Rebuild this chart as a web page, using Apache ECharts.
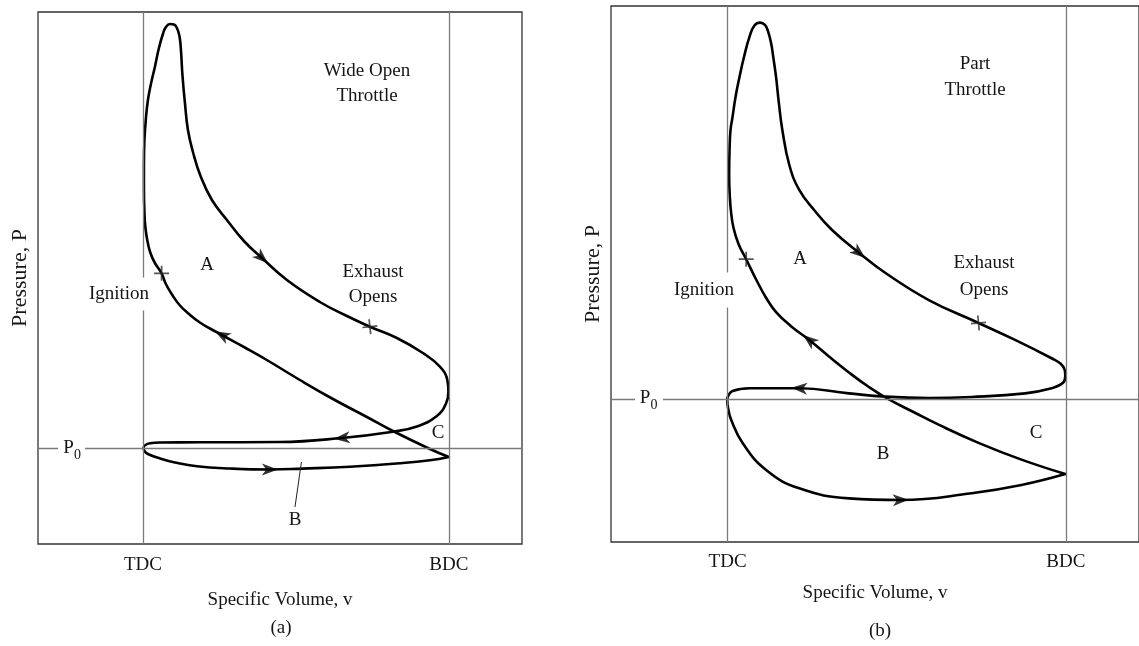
<!DOCTYPE html>
<html>
<head>
<meta charset="utf-8">
<title>P-v diagrams, SI engine</title>
<script src="https://cdn.jsdelivr.net/npm/echarts@6/dist/echarts.min.js"></script>
<style>
  html, body { margin: 0; padding: 0; background: #fff; }
  #chart { width: 1139px; height: 646px; }
</style>
</head>
<body>
<div id="chart"></div>
<script>
// Specific volume is given as % of stroke measured from TDC; pressure in arbitrary units with P0 = 10.
const volumeTicks = [0, 100];
const volumeTickLabels = ['TDC', 'BDC'];
const ambientPressure = 10;

// (a) Wide open throttle: one full cycle starting at BDC (compression -> combustion -> expansion -> exhaust -> intake)
const wotLoop = [
  [100, 9.1], [93.8, 9.9], [81.7, 11.7], [73.2, 13.1], [62.1, 14.9], [51.3, 16.8], [40.5, 18.8],
  [33.3, 20.05], [25.8, 21.3], [22.2, 21.9], [18.6, 22.55], [15.4, 23.3], [12.1, 24.25], [9.5, 25.35],
  [7.5, 26.4], [6.1, 27.47], [3.9, 28.5], [2.45, 29.5], [1.47, 30.7], [0.82, 32.0], [0.49, 33.6],
  [0.33, 35.8], [0.33, 38.3], [0.49, 40.8], [0.98, 43.0], [1.63, 44.8], [2.61, 46.4], [3.92, 48.13],
  [5.23, 50.0], [6.63, 51.5], [7.52, 52.1], [8.82, 52.4], [10.13, 52.35], [11.11, 52.0], [11.93, 51.2],
  [12.42, 49.8], [12.91, 47.3], [13.73, 44.5], [14.71, 41.8], [16.34, 39.6], [18.95, 37.1], [22.55, 34.8],
  [27.45, 32.8], [33.0, 30.7], [38.9, 29.0], [47.06, 26.8], [57.84, 24.6], [66.0, 23.3], [74.18, 22.13],
  [83.0, 21.0], [91.5, 19.5], [97.06, 18.13], [99.5, 16.8], [99.84, 15.6], [99.0, 14.4], [96.08, 13.2],
  [89.54, 12.15], [81.7, 11.63], [65.03, 11.0], [44.77, 10.6], [18.63, 10.57], [5.56, 10.55], [2.29, 10.47],
  [0.82, 10.3], [0.2, 10.05], [0.49, 9.7], [1.63, 9.4], [5.56, 8.95], [10.46, 8.55], [17.65, 8.17],
  [28.43, 7.95], [41.5, 7.85], [51.96, 7.94], [67.65, 8.13], [83.99, 8.47], [93.79, 8.77], [100, 9.1]
];
const wotArrows = [[38.9, 29.0], [25.8, 21.3], [65.03, 11.0], [41.5, 7.85]];
const wotIgnition = [6.1, 27.47];
const wotExhaustOpens = [74.18, 22.13];
const wotPumpingPointer = [[49.7, 4.1], [51.8, 8.6]];

// (b) Part throttle
const ptLoop = [
  [99.85, 5.03], [86.9, 5.99], [74.2, 7.11], [62.4, 8.32], [55.1, 9.15], [47.7, 10.0], [41.8, 10.83],
  [35.9, 11.8], [30.0, 12.87], [24.15, 13.97], [18.85, 14.87], [14.34, 15.83], [11.34, 16.8], [8.45, 18.0],
  [5.51, 19.35], [3.24, 20.37], [1.77, 21.43], [1.03, 22.5], [0.65, 23.63], [0.47, 24.97], [0.59, 26.63],
  [0.88, 27.97], [1.47, 28.83], [2.36, 30.17], [3.53, 31.5], [4.86, 32.83], [6.48, 34.17], [7.95, 34.93],
  [9.63, 35.12], [11.05, 34.97], [11.93, 34.57], [12.87, 33.77], [13.55, 32.77], [14.34, 31.5], [15.17, 29.77],
  [16.2, 27.97], [18.26, 25.63], [21.2, 23.97], [25.6, 22.63], [30.9, 21.3], [38.9, 19.77], [46.7, 18.43],
  [59.5, 16.63], [74.2, 15.1], [85.0, 13.97], [95.8, 12.75], [98.4, 12.4], [99.7, 11.97], [99.85, 11.57],
  [99.26, 11.13], [95.8, 10.75], [88.0, 10.41], [72.2, 10.17], [59.5, 10.1], [46.7, 10.19], [35.9, 10.41],
  [21.2, 10.75], [6.48, 10.75], [1.47, 10.57], [0.15, 10.23], [-0.09, 9.97], [0.15, 9.43], [1.09, 8.63],
  [4.5, 7.08], [11.4, 5.3], [21.2, 4.08], [35.9, 3.41], [51.2, 3.3], [72.2, 3.75], [86.9, 4.3], [99.85, 5.03]
];
const ptArrows = [[38.9, 19.77], [24.15, 13.97], [21.2, 10.75], [51.2, 3.3]];
const ptIgnition = [5.51, 19.35];
const ptExhaustOpens = [74.2, 15.1];

const FONT_FAMILY = '"Liberation Serif", "Times New Roman", serif';
const INK = '#151515';
const CURVE = '#000';
const GUIDE = '#7a7a7a';
const ARROW_PATH = 'path://M5,0 L10,13 L5,9.5 L0,13 Z';
const CROSS_PATH = 'path://M0,6.2 L14,6.2 L14,7.8 L0,7.8 Z M6.2,0 L7.8,0 L7.8,14 L6.2,14 Z';

const chart = echarts.init(document.getElementById('chart'), null, { renderer: 'canvas' });

function xAxisFor(gridIndex, min, max, labelMargin, nameGap) {
  return {
    gridIndex, type: 'value', min, max,
    axisLine: { show: false }, axisTick: { show: false }, splitLine: { show: false },
    axisLabel: {
      customValues: volumeTicks,
      formatter: (v) => volumeTickLabels[volumeTicks.indexOf(v)] || '',
      margin: labelMargin, fontFamily: FONT_FAMILY, fontSize: 19, color: INK
    },
    name: 'Specific Volume, v', nameLocation: 'middle', nameGap,
    nameTextStyle: { fontFamily: FONT_FAMILY, fontSize: 19, color: INK }
  };
}
function yAxisFor(gridIndex, min, max) {
  return {
    gridIndex, type: 'value', min, max,
    axisLine: { show: false }, axisTick: { show: false }, splitLine: { show: false },
    axisLabel: { show: false },
    name: 'Pressure, P', nameLocation: 'middle', nameRotate: 90, nameGap: 7,
    nameTextStyle: { fontFamily: FONT_FAMILY, fontSize: 22, color: INK }
  };
}
function guideSeries(idx) {
  return {
    type: 'line', xAxisIndex: idx, yAxisIndex: idx, data: [], z: 1, silent: true,
    markLine: {
      silent: true, symbol: ['none', 'none'], label: { show: false },
      lineStyle: { color: GUIDE, width: 1.3, type: 'solid' },
      emphasis: { disabled: true },
      data: [{ xAxis: volumeTicks[0] }, { xAxis: volumeTicks[1] }, { yAxis: ambientPressure }]
    }
  };
}
function loopSeries(id, idx, data) {
  return {
    id, type: 'line', xAxisIndex: idx, yAxisIndex: idx, data, smooth: 0.45,
    symbol: 'none', z: 3, silent: true,
    lineStyle: { color: CURVE, width: 2.6, cap: 'round', join: 'round' }
  };
}
function arrowSeries(id, idx, data) {
  return {
    id, type: 'scatter', xAxisIndex: idx, yAxisIndex: idx, data, z: 4, silent: true,
    symbol: ARROW_PATH, symbolSize: [12, 16], itemStyle: { color: CURVE }
  };
}
function crossSeries(id, idx, data) {
  return {
    id, type: 'scatter', xAxisIndex: idx, yAxisIndex: idx, data, z: 4, silent: true,
    symbol: CROSS_PATH, symbolSize: 15, itemStyle: { color: '#2a2a2a' }
  };
}

function text(x, y, str, extra) {
  return {
    type: 'text', x, y, z: 100, silent: true,
    style: Object.assign({
      text: str, font: '19px ' + FONT_FAMILY, fill: INK,
      align: 'center', verticalAlign: 'middle', textAlign: 'center', textVerticalAlign: 'middle'
    }, extra || {})
  };
}
function ambientLabel(px, py, gapLeft, gapRight) {
  return [
    { type: 'rect', z: 99, silent: true, shape: { x: gapLeft, y: py - 8, width: gapRight - gapLeft, height: 16 }, style: { fill: '#fff' } },
    text(px, py - 1, 'P'),
    text(px + 9, py + 6, '0', { font: '14px ' + FONT_FAMILY })
  ];
}

const option = {
  animation: false,
  backgroundColor: '#fff',
  grid: [
    { left: 38, top: 12, width: 484, height: 532, show: true, borderColor: '#333', borderWidth: 1.3, containLabel: false },
    { left: 611, top: 6, width: 530, height: 536, show: true, borderColor: '#333', borderWidth: 1.3, containLabel: false }
  ],
  xAxis: [xAxisFor(0, -34.3, 123.9, 12, 47), xAxisFor(1, -34.46, 121.65, 11, 42)],
  yAxis: [yAxisFor(0, 0.4, 53.6), yAxisFor(1, 0.5, 36.23)],
  series: [
    guideSeries(0),
    guideSeries(1),
    loopSeries('wotLoop', 0, wotLoop),
    loopSeries('ptLoop', 1, ptLoop),
    arrowSeries('wotArrows', 0, wotArrows),
    arrowSeries('ptArrows', 1, ptArrows),
    crossSeries('wotMarks', 0, [wotIgnition, wotExhaustOpens]),
    crossSeries('ptMarks', 1, [ptIgnition, ptExhaustOpens]),
    {
      type: 'line', xAxisIndex: 0, yAxisIndex: 0, data: wotPumpingPointer, symbol: 'none', z: 3, silent: true,
      lineStyle: { color: '#222', width: 1 }
    }
  ],
  graphic: [
    // (a)
    text(367, 71, 'Wide Open'), text(367, 96, 'Throttle'),
    text(207, 265, 'A'),
    text(119, 294, 'Ignition', { backgroundColor: '#fff', padding: [7, 1, 7, 1] }),
    text(373, 272, 'Exhaust'), text(373, 297, 'Opens'),
    text(295, 520, 'B'), text(438, 433, 'C'),
    ...ambientLabel(68.5, 449, 58, 85),
    text(281, 628, '(a)'),
    // (b)
    text(975, 64, 'Part'), text(975, 90, 'Throttle'),
    text(800, 259, 'A'),
    text(704, 290, 'Ignition', { backgroundColor: '#fff', padding: [8, 1, 8, 1] }),
    text(984, 263, 'Exhaust'), text(984, 290, 'Opens'),
    text(883, 454, 'B'), text(1036, 433, 'C'),
    ...ambientLabel(645, 399, 635, 663),
    text(880, 631, '(b)')
  ]
};

chart.setOption(option);

// Orient arrowheads and event ticks along the local direction of the cycle.
function nearestIndex(loop, p) {
  let best = 0, bd = Infinity;
  loop.forEach((q, i) => {
    const d = (q[0] - p[0]) ** 2 + (q[1] - p[1]) ** 2;
    if (d < bd) { bd = d; best = i; }
  });
  return best;
}
function heading(gridIndex, loop, p) {
  const i = nearestIndex(loop, p);
  const a = chart.convertToPixel({ gridIndex }, loop[Math.max(i - 1, 0)]);
  const b = chart.convertToPixel({ gridIndex }, loop[Math.min(i + 1, loop.length - 1)]);
  return Math.atan2(-(b[1] - a[1]), b[0] - a[0]) * 180 / Math.PI;
}
const arrowItems = (g, loop, pts) => pts.map(p => ({ value: p, symbolRotate: heading(g, loop, p) - 90 }));
// exhaust-opening tick is drawn slightly skewed to the curve so both strokes read as a cross
const eventTicks = (g, loop, ign, exh) => [
  { value: ign, symbolRotate: 0 },
  { value: exh, symbolRotate: heading(g, loop, exh) + 30 }
];

chart.setOption({
  series: [
    { id: 'wotArrows', data: arrowItems(0, wotLoop, wotArrows) },
    { id: 'ptArrows', data: arrowItems(1, ptLoop, ptArrows) },
    { id: 'wotMarks', data: eventTicks(0, wotLoop, wotIgnition, wotExhaustOpens) },
    { id: 'ptMarks', data: eventTicks(1, ptLoop, ptIgnition, ptExhaustOpens) }
  ]
});
</script>
</body>
</html>
